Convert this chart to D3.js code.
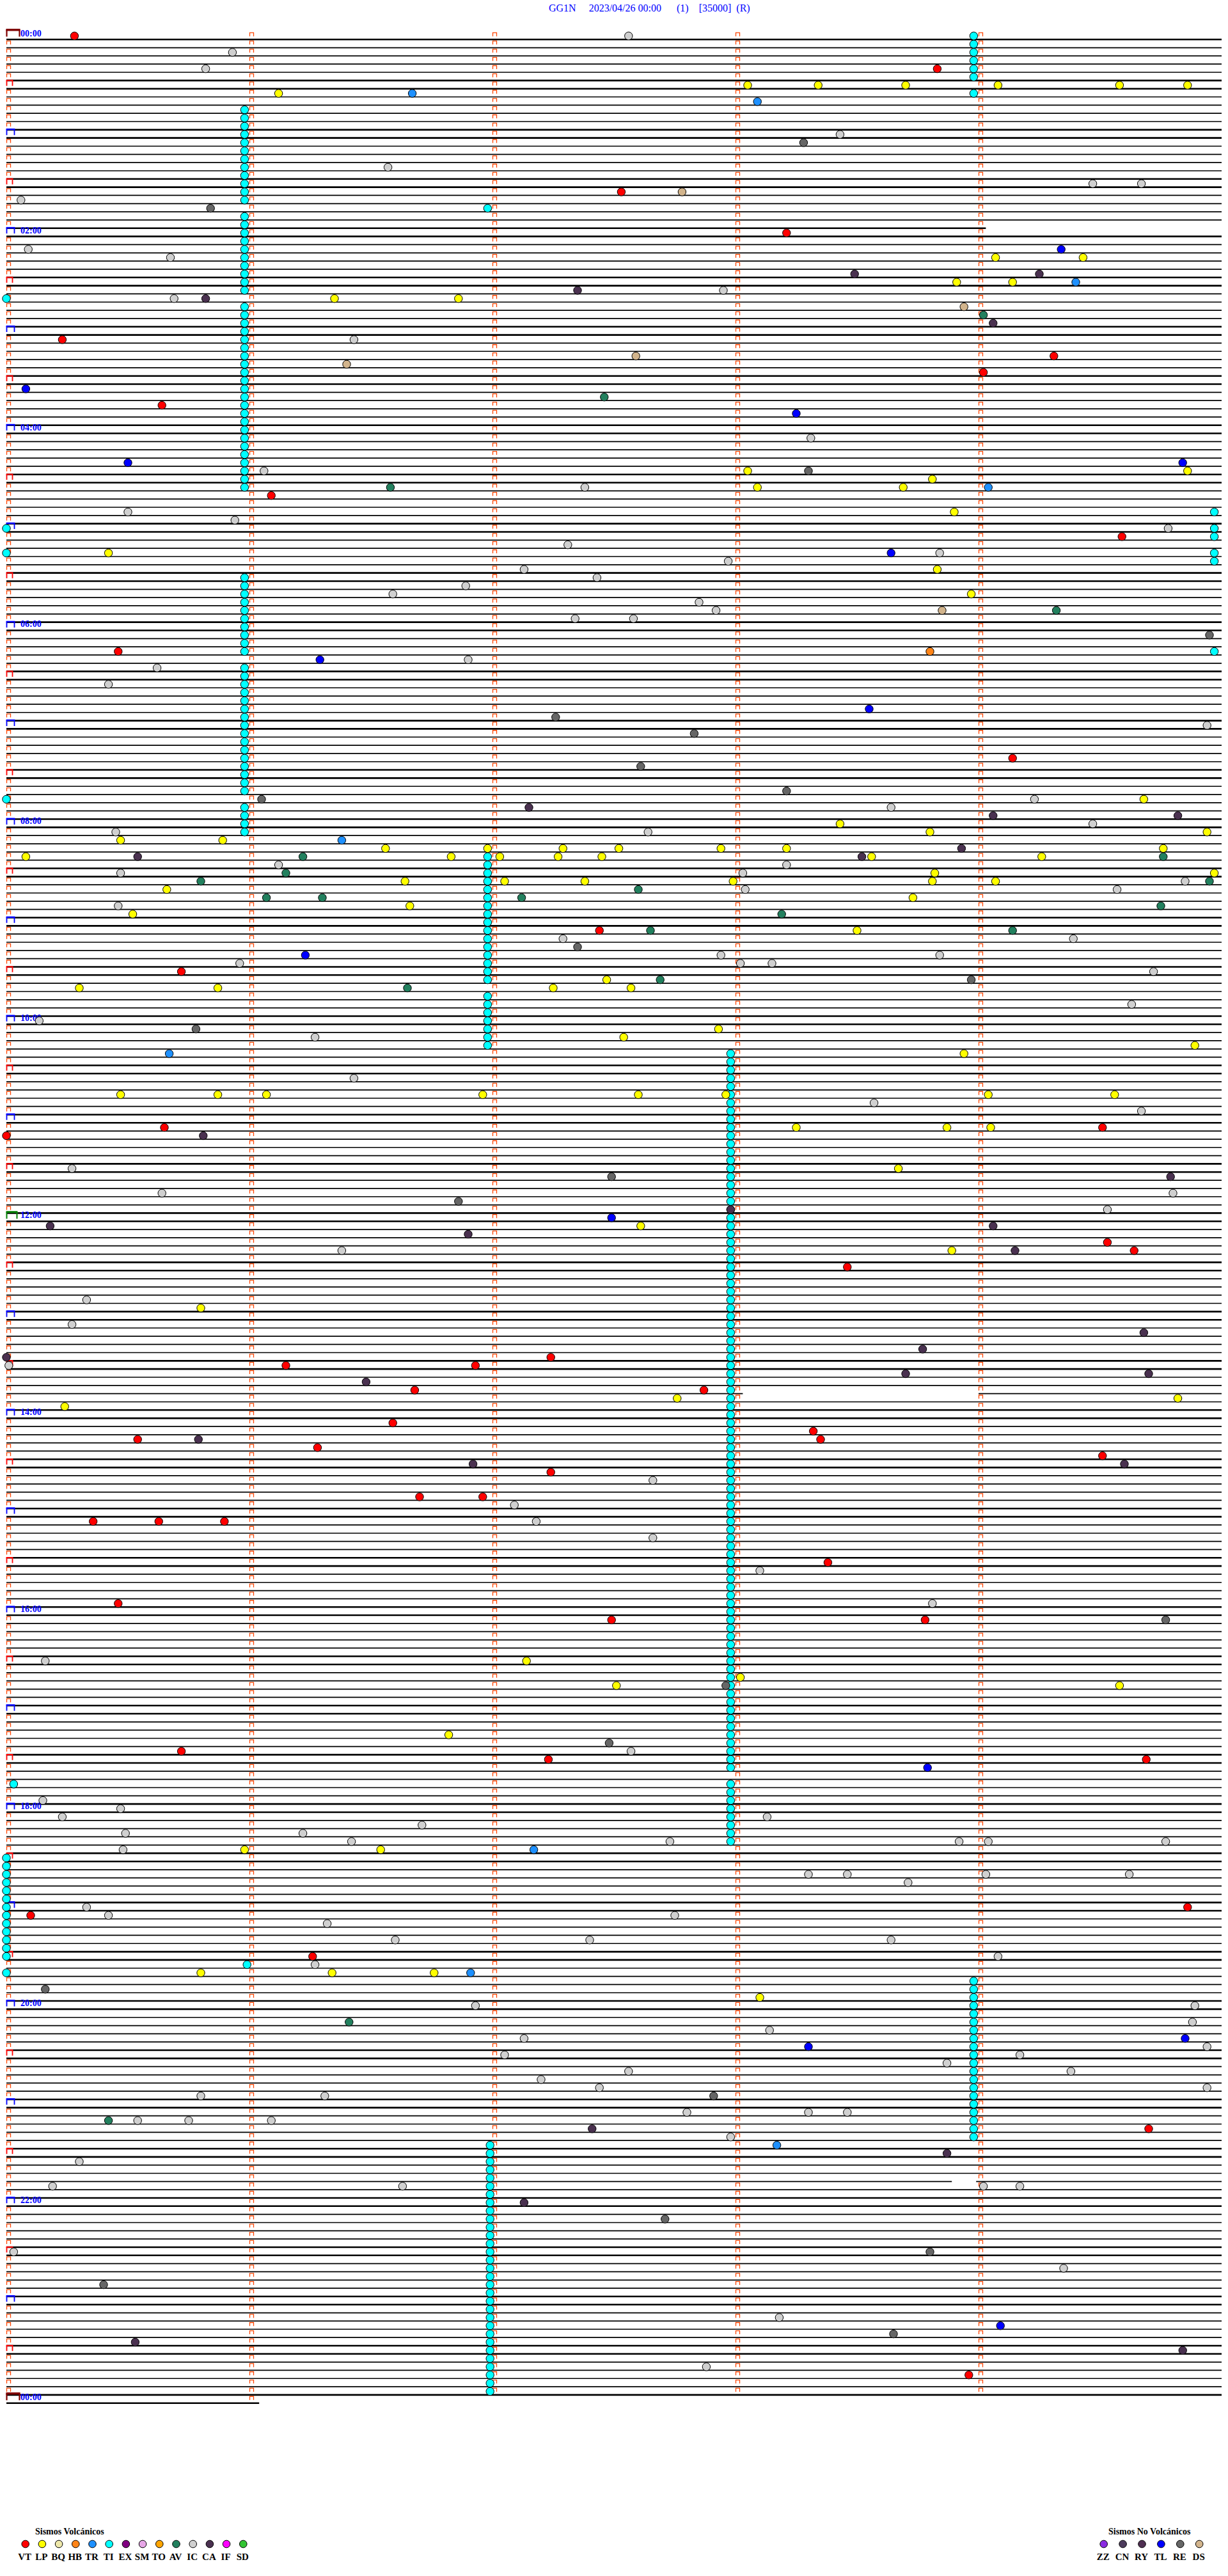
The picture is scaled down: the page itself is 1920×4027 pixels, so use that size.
<!DOCTYPE html>
<html><head><meta charset="utf-8">
<script src="https://cdn.jsdelivr.net/npm/d3@7"></script>
<style>body{margin:0;background:#fff}svg{display:block}</style>
</head><body>
<script>
// ---------------- DATA ----------------
const titleText = "GG1N     2023/04/26 00:00      (1)    [35000]  (R)";
const hourLabels = ["00:00","02:00","04:00","06:00","08:00","10:00","12:00","14:00","16:00","18:00","20:00","22:00","00:00"];
const fullLines = 288;          // 5-minute lines in the day
const minutesPerLine = 5;
const lastLineMinutes = 1.04;   // partial line after midnight
// data gaps: [line, fromMinute, toMinute]
const lineGaps = [[23,4.03,5],[165,3.03,4.0],[261,3.89,3.99]];
// continuous tremor (TI) runs: [firstLine, lastLine, minute]
const tiRuns = [
  [0,5,3.98],[7,7,3.98],
  [9,20,0.98],[22,31,0.98],[33,55,0.98],
  [66,75,0.98],[77,92,0.98],[94,97,0.98],
  [100,115,1.98],[117,123,1.98],
  [124,211,2.98],[213,220,2.98],
  [222,234,0.0],[236,236,0.0],
  [237,256,3.98],
  [257,287,1.99]
];
// events: [line, minute within line, type]
const events = [
[0,0.28,"VT"],[0,2.56,"IC"],
[2,0.93,"IC"],
[4,0.82,"IC"],[4,3.83,"VT"],
[6,3.05,"LP"],[6,3.34,"LP"],[6,3.70,"LP"],[6,4.08,"LP"],[6,4.58,"LP"],[6,4.86,"LP"],
[7,1.12,"LP"],[7,1.67,"TR"],
[8,3.09,"TR"],
[12,3.43,"IC"],
[13,3.28,"RE"],
[16,1.57,"IC"],
[18,4.47,"IC"],[18,4.67,"IC"],
[19,2.53,"VT"],[19,2.78,"DS"],
[20,0.06,"IC"],
[21,0.84,"RE"],[21,1.98,"TI"],
[24,3.21,"VT"],
[26,0.09,"IC"],[26,4.34,"TL"],
[27,0.675,"IC"],[27,4.07,"LP"],[27,4.43,"LP"],
[29,3.49,"CA"],[29,4.25,"CA"],
[30,3.91,"LP"],[30,4.14,"LP"],[30,4.40,"TR"],
[31,2.35,"CA"],[31,2.95,"IC"],
[32,0.0,"TI"],[32,0.69,"IC"],[32,0.82,"CA"],[32,1.35,"LP"],[32,1.86,"LP"],
[33,3.94,"DS"],
[34,4.02,"AV"],
[35,4.06,"CA"],
[37,0.23,"VT"],[37,1.43,"IC"],
[39,2.59,"DS"],[39,4.31,"VT"],
[40,1.40,"DS"],
[41,4.02,"VT"],
[43,0.08,"TL"],
[44,2.46,"AV"],
[45,0.64,"VT"],
[46,3.25,"TL"],
[49,3.31,"IC"],
[52,0.50,"TL"],[52,4.84,"TL"],
[53,1.06,"IC"],[53,3.05,"LP"],[53,3.30,"RE"],[53,4.86,"LP"],
[54,3.81,"LP"],
[55,1.58,"AV"],[55,2.38,"IC"],[55,3.09,"LP"],[55,3.69,"LP"],[55,4.04,"TR"],
[56,1.09,"VT"],
[58,0.50,"IC"],[58,3.90,"LP"],[58,4.97,"TI"],
[59,0.94,"IC"],
[60,0.0,"TI"],[60,4.78,"IC"],[60,4.97,"TI"],
[61,4.59,"VT"],[61,4.97,"TI"],
[62,2.31,"IC"],
[63,0.0,"TI"],[63,0.42,"LP"],[63,3.64,"TL"],[63,3.84,"IC"],[63,4.97,"TI"],
[64,2.97,"IC"],[64,4.97,"TI"],
[65,2.13,"IC"],[65,3.83,"LP"],
[66,2.43,"IC"],
[67,1.89,"IC"],
[68,1.59,"IC"],[68,3.97,"LP"],
[69,2.85,"IC"],
[70,2.92,"IC"],[70,3.85,"DS"],[70,4.32,"AV"],
[71,2.34,"IC"],[71,2.58,"IC"],
[73,4.95,"RE"],
[75,0.46,"VT"],[75,3.80,"HB"],[75,4.97,"TI"],
[76,1.29,"TL"],[76,1.90,"IC"],
[77,0.62,"IC"],
[79,0.42,"IC"],
[82,3.55,"TL"],
[83,2.26,"RE"],
[84,4.94,"IC"],
[85,2.83,"RE"],
[88,4.14,"VT"],
[89,2.61,"RE"],
[92,3.21,"RE"],
[93,0.0,"TI"],[93,1.05,"RE"],[93,4.23,"IC"],[93,4.68,"LP"],
[94,2.15,"CA"],[94,3.64,"IC"],
[95,4.06,"CA"],[95,4.82,"CA"],
[96,3.43,"LP"],[96,4.47,"IC"],
[97,0.45,"IC"],[97,2.64,"IC"],[97,3.80,"LP"],[97,4.94,"LP"],
[98,0.47,"LP"],[98,0.89,"LP"],[98,1.38,"TR"],
[99,1.56,"LP"],[99,1.98,"LP"],[99,2.29,"LP"],[99,2.52,"LP"],[99,2.94,"LP"],[99,3.21,"LP"],[99,3.93,"CA"],[99,4.76,"LP"],
[100,0.08,"LP"],[100,0.54,"CA"],[100,1.22,"AV"],[100,1.83,"LP"],[100,2.03,"LP"],[100,2.27,"LP"],[100,2.45,"LP"],[100,3.52,"CA"],[100,3.56,"LP"],[100,4.26,"LP"],[100,4.76,"AV"],
[101,1.12,"IC"],[101,3.21,"IC"],
[102,0.47,"IC"],[102,1.15,"AV"],[102,3.03,"IC"],[102,3.82,"LP"],[102,4.97,"LP"],
[103,0.80,"AV"],[103,1.64,"LP"],[103,2.05,"LP"],[103,2.38,"LP"],[103,2.99,"LP"],[103,3.81,"LP"],[103,4.07,"LP"],[103,4.85,"IC"],[103,4.95,"AV"],
[104,0.66,"LP"],[104,2.60,"AV"],[104,3.04,"IC"],[104,4.57,"IC"],
[105,1.07,"AV"],[105,1.30,"AV"],[105,2.12,"AV"],[105,3.73,"LP"],
[106,0.46,"IC"],[106,1.66,"LP"],[106,4.75,"AV"],
[107,0.52,"LP"],[107,3.19,"AV"],
[109,2.44,"VT"],[109,2.65,"AV"],[109,3.50,"LP"],[109,4.14,"AV"],
[110,2.29,"IC"],[110,4.39,"IC"],
[111,2.35,"RE"],
[112,1.23,"TL"],[112,2.94,"IC"],[112,3.84,"IC"],
[113,0.96,"IC"],[113,3.02,"IC"],[113,3.15,"IC"],
[114,0.72,"VT"],[114,4.72,"IC"],
[115,2.47,"LP"],[115,2.69,"AV"],[115,3.97,"RE"],
[116,0.30,"LP"],[116,0.87,"LP"],[116,1.65,"AV"],[116,2.25,"LP"],[116,2.57,"LP"],
[118,4.63,"IC"],
[120,0.135,"IC"],
[121,0.78,"RE"],[121,2.93,"LP"],
[122,1.27,"IC"],[122,2.54,"LP"],
[123,4.89,"LP"],
[124,0.67,"TR"],[124,3.94,"LP"],
[127,1.43,"IC"],
[129,0.47,"LP"],[129,0.87,"LP"],[129,1.07,"LP"],[129,1.96,"LP"],[129,2.60,"LP"],[129,2.96,"LP"],[129,4.04,"LP"],[129,4.56,"LP"],
[130,3.57,"IC"],
[131,4.67,"IC"],
[133,0.65,"VT"],[133,3.25,"LP"],[133,3.87,"LP"],[133,4.05,"LP"],[133,4.51,"VT"],
[134,0.0,"VT"],[134,0.81,"CA"],
[138,0.27,"IC"],[138,3.67,"LP"],
[139,2.49,"RE"],[139,4.79,"CA"],
[141,0.64,"IC"],[141,4.80,"IC"],
[142,1.86,"RE"],
[143,2.98,"CA"],[143,4.53,"IC"],
[144,2.49,"TL"],
[145,0.18,"CA"],[145,2.61,"LP"],[145,4.06,"CA"],
[146,1.90,"CA"],
[147,4.53,"VT"],
[148,1.38,"IC"],[148,3.89,"LP"],[148,4.15,"CA"],[148,4.64,"VT"],
[150,3.46,"VT"],
[154,0.33,"IC"],
[155,0.80,"LP"],
[157,0.27,"IC"],
[158,4.68,"CA"],
[160,3.77,"CA"],
[161,0.0,"CA"],[161,2.24,"VT"],
[162,0.01,"IC"],[162,1.15,"VT"],[162,1.93,"VT"],
[163,3.70,"CA"],[163,4.70,"CA"],
[164,1.48,"CA"],
[165,1.68,"VT"],[165,2.87,"VT"],
[166,2.76,"LP"],[166,4.82,"LP"],
[167,0.24,"LP"],
[169,1.59,"VT"],
[170,3.32,"VT"],
[171,0.54,"VT"],[171,0.79,"CA"],[171,3.35,"VT"],
[172,1.28,"VT"],
[173,4.51,"VT"],
[174,1.92,"CA"],[174,4.60,"CA"],
[175,2.24,"VT"],
[176,2.66,"IC"],
[178,1.70,"VT"],[178,1.96,"VT"],
[179,2.09,"IC"],
[181,0.357,"VT"],[181,0.627,"VT"],[181,0.897,"VT"],[181,2.18,"IC"],
[183,2.66,"IC"],
[186,3.38,"VT"],
[187,3.10,"IC"],
[191,0.46,"VT"],[191,3.81,"IC"],
[193,2.49,"VT"],[193,3.78,"VT"],[193,4.77,"RE"],
[198,0.16,"IC"],[198,2.14,"LP"],
[200,3.02,"LP"],
[201,2.51,"LP"],[201,2.96,"RE"],[201,4.58,"LP"],
[207,1.82,"LP"],
[208,2.48,"RE"],
[209,0.72,"VT"],[209,2.57,"IC"],
[210,2.23,"VT"],[210,4.69,"VT"],
[211,3.79,"TL"],
[213,0.03,"TI"],
[215,0.15,"IC"],
[216,0.47,"IC"],
[217,0.23,"IC"],[217,3.13,"IC"],
[218,1.71,"IC"],
[219,0.49,"IC"],[219,1.22,"IC"],
[220,1.42,"IC"],[220,2.73,"IC"],[220,3.92,"IC"],[220,4.04,"IC"],[220,4.77,"IC"],
[221,0.48,"IC"],[221,0.98,"LP"],[221,1.54,"LP"],[221,2.17,"TR"],
[224,3.30,"IC"],[224,3.46,"IC"],[224,4.03,"IC"],[224,4.62,"IC"],
[225,3.71,"IC"],
[228,0.33,"IC"],[228,4.86,"VT"],
[229,0.10,"VT"],[229,0.42,"IC"],[229,2.75,"IC"],
[230,1.32,"IC"],
[232,1.60,"IC"],[232,2.40,"IC"],[232,3.64,"IC"],
[234,1.26,"VT"],[234,4.08,"IC"],
[235,0.99,"TI"],[235,1.27,"IC"],
[236,0.80,"LP"],[236,1.34,"LP"],[236,1.76,"LP"],[236,1.91,"TR"],
[238,0.16,"RE"],
[239,3.10,"LP"],
[240,1.93,"IC"],[240,4.89,"IC"],
[242,1.41,"AV"],[242,4.88,"IC"],
[243,3.14,"IC"],
[244,2.13,"IC"],[244,4.85,"TL"],
[245,3.30,"TL"],[245,4.94,"IC"],
[246,2.05,"IC"],[246,4.17,"IC"],
[247,3.87,"IC"],
[248,2.56,"IC"],[248,4.38,"IC"],
[249,2.20,"IC"],
[250,2.44,"IC"],[250,4.94,"IC"],
[251,0.80,"IC"],[251,1.31,"IC"],[251,2.91,"RE"],
[253,2.80,"IC"],[253,3.30,"IC"],[253,3.46,"IC"],
[254,0.42,"AV"],[254,0.54,"IC"],[254,0.75,"IC"],[254,1.09,"IC"],
[255,2.41,"CA"],[255,4.70,"VT"],
[256,2.98,"IC"],
[257,3.17,"TR"],
[258,3.87,"CA"],
[259,0.30,"IC"],
[262,0.19,"IC"],[262,1.63,"IC"],[262,4.02,"IC"],[262,4.17,"IC"],
[264,2.13,"CA"],
[266,2.71,"RE"],
[270,0.03,"IC"],[270,3.80,"RE"],
[272,4.35,"IC"],
[274,0.40,"RE"],
[278,3.18,"IC"],
[279,4.09,"TL"],
[280,3.65,"RE"],
[281,0.53,"CA"],
[282,4.84,"CA"],
[284,2.88,"IC"],
[285,3.96,"VT"]
];
const volcanicTitle = "Sismos Volcánicos";
const nonVolcanicTitle = "Sismos No Volcánicos";
const volcanicCodes = ["VT","LP","BQ","HB","TR","TI","EX","SM","TO","AV","IC","CA","IF","SD"];
const nonVolcanicCodes = ["ZZ","CN","RY","TL","RE","DS"];
const typeColors = {
  VT:"#ff0000", LP:"#ffff00", BQ:"#eee8aa", HB:"#ff8418", TR:"#1e90ff", TI:"#00ffff",
  EX:"#800080", SM:"#e6a6e6", TO:"#ffa500", AV:"#22805e", IC:"#d0d0d0", CA:"#4a3150",
  IF:"#ff00ff", SD:"#33c433",
  ZZ:"#8a2be2", CN:"#4d3b5c", RY:"#4f2f52", TL:"#0000ff", RE:"#666666", DS:"#d2b48c"
};

// ---------------- DRAWING ----------------
const W = 1920, H = 4027;
const svg = d3.select("body").append("svg").attr("width", W).attr("height", H)
  .attr("font-family", "'Liberation Serif','Times New Roman',serif");
svg.append("rect").attr("width", W).attr("height", H).attr("fill", "#fff");

const x = d3.scaleLinear().domain([0, minutesPerLine]).range([10, 1910]);
const y = d3.scaleLinear().domain([0, fullLines]).range([61.7, 61.7 + fullLines * 12.83]);

// title
svg.append("text").attr("x", 858).attr("y", 18).attr("xml:space", "preserve")
  .style("white-space", "pre").attr("font-size", 16).attr("fill", "#0000ff").text(titleText);

// trace lines (with gaps)
const lineIdx = d3.range(0, fullLines + 1);
const segs = [];
lineIdx.forEach(i => {
  const len = i < fullLines ? minutesPerLine : lastLineMinutes;
  let parts = [[0, len]];
  lineGaps.filter(g => g[0] === i).forEach(g => {
    parts = parts.flatMap(([a, b]) => {
      const out = [];
      if (g[1] > a) out.push([a, Math.min(b, g[1])]);
      if (g[2] < b) out.push([Math.max(a, g[2]), b]);
      return out;
    });
  });
  parts.forEach(p => segs.push({i, a: p[0], b: p[1], thick: (i % 6 === 0 || i % 6 === 5)}));
});
svg.append("g").selectAll("line").data(segs).join("line")
  .attr("x1", d => x(d.a)).attr("x2", d => x(d.b))
  .attr("y1", d => y(d.i)).attr("y2", d => y(d.i))
  .attr("stroke", "#000").attr("stroke-width", d => d.thick ? 2.6 : 1.7);

// minute marks
const marks = [];
lineIdx.forEach(i => {
  const len = i < fullLines ? minutesPerLine : lastLineMinutes;
  for (let k = 0; k < minutesPerLine; k++) {
    if (k >= len) continue;
    if (k === 0 && i % 6 === 0) continue;
    marks.push({i, k});
  }
});
svg.append("g").selectAll("path").data(marks).join("path")
  .attr("d", d => { const x0 = x(d.k) + 0.5, y0 = y(d.i) - 10.5; return `M${x0},${y0+5.5}V${y0}H${x0+6}V${y0+5.5}`; })
  .attr("fill", "none").attr("stroke", "#ff4500").attr("stroke-width", 1.3);

// time brackets every 30 min
const brackets = lineIdx.filter(i => i % 6 === 0).map(i => {
  let kind = "half";
  if (i % fullLines === 0) kind = "day"; else if (i === fullLines / 2) kind = "noon"; else if (i % 12 === 0) kind = "hour";
  return {i, kind};
});
const bStyle = {
  half: {w: 9, top: 13, bot: 4.5, c: "#ff0000", tw: 2, lw: 1.8},
  hour: {w: 12, top: 13.5, bot: 4.5, c: "#0000ff", tw: 2.5, lw: 1.8},
  noon: {w: 16, top: 14.5, bot: 4, c: "#008000", tw: 3, lw: 2},
  day:  {w: 20, top: 15, bot: 4.5, c: "#800000", tw: 3.5, lw: 2.2}
};
const bg = svg.append("g");
brackets.forEach(b => {
  const s = bStyle[b.kind], x0 = x(0) + 0.5, yl = y(b.i);
  bg.append("path").attr("d", `M${x0},${yl - s.bot}V${yl - s.top}M${x0 + s.w},${yl - s.top}V${yl - s.bot}`)
    .attr("stroke", s.c).attr("stroke-width", s.lw).attr("fill", "none");
  bg.append("line").attr("x1", x0 - s.lw / 2).attr("x2", x0 + s.w + s.lw / 2)
    .attr("y1", yl - s.top).attr("y2", yl - s.top).attr("stroke", s.c).attr("stroke-width", s.tw);
});
// hour labels every 2 h
svg.append("g").selectAll("text").data(lineIdx.filter(i => i % 24 === 0)).join("text")
  .attr("x", 32).attr("y", d => y(d) - 5)
  .attr("font-size", 14).attr("font-weight", "bold").attr("fill", "#0000ff")
  .text(d => hourLabels[d / 24]);

// events
const tiEvents = tiRuns.flatMap(([a, b, m]) => d3.range(a, b + 1).map(i => [i, m, "TI"]));
const allEvents = tiEvents.concat(events);
svg.append("g").selectAll("circle").data(allEvents).join("circle")
  .attr("cx", d => x(d[1])).attr("cy", d => y(d[0]) - 5.5).attr("r", 6.2)
  .attr("fill", d => typeColors[d[2]]).attr("stroke", "#000").attr("stroke-width", 1);

// legends
function legend(title, codes, titleX, cx0, step) {
  const g = svg.append("g");
  g.append("text").attr("x", titleX).attr("y", 3962).attr("font-size", 14).attr("font-weight", "bold").text(title);
  g.selectAll("circle").data(codes).join("circle")
    .attr("cx", (d, k) => cx0 + k * step).attr("cy", 3977).attr("r", 5.8)
    .attr("fill", d => typeColors[d]).attr("stroke", "#000").attr("stroke-width", 1);
  g.selectAll("text.lab").data(codes).join("text").attr("class", "lab")
    .attr("x", (d, k) => cx0 + k * step - 1).attr("y", 4002).attr("text-anchor", "middle")
    .attr("font-size", 15).attr("font-weight", "bold").text(d => d);
}
legend(volcanicTitle, volcanicCodes, 55, 39.7, 26.2);
legend(nonVolcanicTitle, nonVolcanicCodes, 1733, 1725.7, 29.9);
</script>
</body></html>
